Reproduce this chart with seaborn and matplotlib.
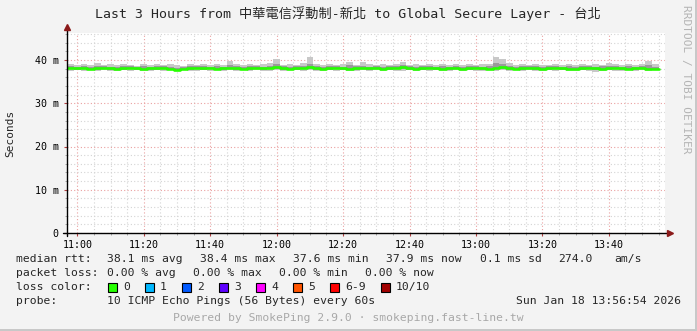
import numpy as np
import pandas as pd
import matplotlib
matplotlib.use('Agg')
import matplotlib.pyplot as plt
from matplotlib.ticker import MultipleLocator, FuncFormatter
from matplotlib.patches import Rectangle
import seaborn as sns

# ---------------- data (ms), one value per 2-minute step starting 10:57 ----------------
start_min = 57          # minutes after 10:00 of the first step
step_min = 2
median_ms = [
    38.2, 38.1, 38.2, 38.0, 38.1, 38.2, 38.1, 38.0, 38.1, 38.2,
    38.1, 38.0, 38.1, 38.1, 38.2, 38.0, 37.8, 38.0, 38.1, 38.2,
    38.1, 38.2, 38.0, 38.1, 38.2, 38.1, 38.0, 38.1, 38.2, 38.1,
    38.2, 38.4, 38.1, 38.0, 38.1, 38.2, 38.3, 38.1, 38.0, 38.1,
    38.2, 38.1, 38.0, 38.1, 38.2, 38.1, 38.2, 38.0, 38.1, 38.2,
    38.3, 38.1, 38.0, 38.1, 38.2, 38.1, 38.0, 38.1, 38.2, 38.0,
    38.1, 38.2, 38.1, 38.0, 38.2, 38.3, 38.1, 38.0, 38.1, 38.2,
    38.1, 38.0, 38.1, 38.2, 38.1, 38.0, 37.9, 38.1, 38.2, 38.1,
    38.0, 38.1, 38.2, 38.1, 38.0, 38.1, 38.2, 38.0, 37.9]
ping_max = [
    39.1, 38.9, 39.0, 38.8, 39.3, 38.9, 39.0, 38.8, 39.1, 38.9,
    38.7, 39.0, 38.9, 39.1, 38.8, 39.0, 38.9, 38.7, 39.0, 38.9,
    39.1, 38.8, 39.0, 38.9, 39.8, 39.0, 38.8, 39.1, 38.9, 39.0,
    39.2, 40.2, 38.9, 39.1, 38.8, 39.3, 40.8, 39.0, 38.9, 39.1,
    38.8, 39.0, 39.6, 38.9, 39.5, 39.0, 38.8, 39.1, 38.9, 39.0,
    39.5, 38.9, 39.0, 38.8, 39.1, 38.9, 39.0, 38.8, 39.1, 38.9,
    39.0, 38.8, 39.1, 39.0, 40.8, 40.2, 39.3, 38.9, 39.0, 38.8,
    39.1, 38.9, 38.8, 39.0, 38.9, 39.1, 38.8, 39.0, 38.9, 39.1,
    38.8, 39.2, 39.0, 38.9, 39.1, 38.8, 39.0, 39.8, 39.0]
ping_min = [
    37.5, 37.6, 37.4, 37.6, 37.5, 37.7, 37.5, 37.4, 37.6, 37.5,
    37.6, 37.4, 37.5, 37.6, 37.5, 37.7, 37.5, 37.6, 37.4, 37.5,
    37.6, 37.5, 37.7, 37.5, 37.6, 37.4, 37.6, 37.5, 37.6, 37.5,
    37.4, 37.6, 37.5, 37.6, 37.7, 37.5, 37.6, 37.4, 37.5, 37.6,
    37.5, 37.6, 37.4, 37.5, 37.6, 37.5, 37.7, 37.5, 37.6, 37.4,
    37.5, 37.6, 37.5, 37.7, 37.5, 37.6, 37.4, 37.5, 37.6, 37.5,
    37.6, 37.5, 37.4, 37.6, 37.5, 37.6, 37.5, 37.7, 37.5, 37.6,
    37.4, 37.5, 37.6, 37.5, 37.6, 37.4, 37.5, 37.6, 37.5, 37.3,
    37.5, 37.6, 37.5, 37.4, 37.6, 37.5, 37.6, 37.5, 37.6]
inner_hi = [
    38.6, 38.4, 38.5, 38.4, 38.7, 38.5, 38.4, 38.3, 38.5, 38.6,
    38.4, 38.5, 38.4, 38.6, 38.5, 38.4, 38.2, 38.4, 38.5, 38.6,
    38.5, 38.4, 38.5, 38.4, 38.9, 38.5, 38.3, 38.5, 38.6, 38.4,
    38.6, 39.0, 38.5, 38.4, 38.5, 38.6, 39.1, 38.5, 38.4, 38.5,
    38.6, 38.4, 38.8, 38.5, 38.7, 38.4, 38.6, 38.4, 38.5, 38.6,
    38.8, 38.5, 38.4, 38.5, 38.6, 38.4, 38.5, 38.4, 38.6, 38.4,
    38.5, 38.6, 38.4, 38.5, 39.2, 39.0, 38.6, 38.4, 38.5, 38.6,
    38.5, 38.4, 38.5, 38.6, 38.4, 38.5, 38.3, 38.5, 38.6, 38.4,
    38.5, 38.6, 38.5, 38.4, 38.5, 38.4, 38.6, 38.8, 38.4]
inner_lo = [
    37.9, 37.8, 37.9, 37.7, 37.8, 37.9, 37.8, 37.7, 37.8, 37.9,
    37.8, 37.7, 37.8, 37.8, 37.9, 37.7, 37.6, 37.7, 37.8, 37.9,
    37.8, 37.9, 37.7, 37.8, 37.9, 37.8, 37.7, 37.8, 37.9, 37.8,
    37.9, 38.0, 37.8, 37.7, 37.8, 37.9, 37.9, 37.8, 37.7, 37.8,
    37.9, 37.8, 37.7, 37.8, 37.9, 37.8, 37.9, 37.7, 37.8, 37.9,
    37.9, 37.8, 37.7, 37.8, 37.9, 37.8, 37.7, 37.8, 37.9, 37.7,
    37.8, 37.9, 37.8, 37.7, 37.9, 37.9, 37.8, 37.7, 37.8, 37.9,
    37.8, 37.7, 37.8, 37.9, 37.8, 37.7, 37.6, 37.8, 37.9, 37.8,
    37.7, 37.8, 37.9, 37.8, 37.7, 37.8, 37.9, 37.7, 37.6]

x_tick_labels = ['11:00', '11:20', '11:40', '12:00', '12:20', '12:40', '13:00', '13:20', '13:40']
y_tick_labels = ['0', '10 m', '20 m', '30 m', '40 m']

title = 'Last 3 Hours from 中華電信浮動制-新北 to Global Secure Layer - 台北'
legend_rows = [
    [('median rtt:', 16), ('38.1 ms avg', 107), ('38.4 ms max', 200), ('37.6 ms min', 293),
     ('37.9 ms now', 386), ('0.1 ms sd', 480), ('274.0', 558), ('am/s', 614)],
    [('packet loss:', 16), ('0.00 % avg', 107), ('0.00 % max', 193), ('0.00 % min', 279),
     ('0.00 % now', 365)],
]
loss_labels = ['0', '1', '2', '3', '4', '5', '6-9', '10/10']
loss_colors = ['#26ff00', '#00b8ff', '#0059ff', '#5e00ff', '#ff00ff', '#ff5500', '#ff0000', '#a10000']
loss_box_x = [108, 145, 182, 219, 256, 293, 330, 381]
probe_text = '10 ICMP Echo Pings (56 Bytes) every 60s'
date_text = 'Sun Jan 18 13:56:54 2026'
footer = 'Powered by SmokePing 2.9.0 · smokeping.fast-line.tw'

# ---------------- build table ----------------
n = len(median_ms)
t = [start_min + step_min * i for i in range(n)] + [start_min + step_min * n]
def ext(a):
    return list(a) + [a[-1]]
df = pd.DataFrame({'t': t, 'median': ext(median_ms), 'lo': ext(ping_min), 'hi': ext(ping_max),
                   'ilo': ext(inner_lo), 'ihi': ext(inner_hi)})

# ---------------- figure ----------------
sns.set_theme(style='white')
plt.rcParams['font.family'] = ['DejaVu Sans Mono', 'Noto Sans CJK TC']

W, H = 697, 331
BG = '#f3f3f3'
fig = plt.figure(figsize=(W / 100, H / 100), dpi=100, facecolor=BG)

def rect(x0, y0, w, h):
    return [x0 / W, 1 - (y0 + h) / H, w / W, h / H]

AX_L, AX_T, AX_W, AX_H = 67, 33, 598, 200
ax = fig.add_axes(rect(AX_L, AX_T, AX_W, AX_H))
ax.set_facecolor('white')

xmin, xmax = 56.9, 236.9
ymax = AX_H / 4.325
ax.set_xlim(xmin, xmax)
ax.set_ylim(0, ymax)

# grid
ax.xaxis.set_major_locator(MultipleLocator(20))
ax.xaxis.set_minor_locator(MultipleLocator(5))
ax.yaxis.set_major_locator(MultipleLocator(10))
ax.yaxis.set_minor_locator(MultipleLocator(2))
ax.grid(which='minor', color='#d4d4d4', ls=(0, (1, 2)), lw=0.8)
ax.grid(which='major', color='#eaa0a0', ls=(0, (1, 2)), lw=0.8)
ax.set_axisbelow(True)

# smoke + median
ax.fill_between(df['t'], df['lo'], df['hi'], step='post', color='#c8c8c8', lw=0, zorder=2)
ax.fill_between(df['t'], df['ilo'], df['ihi'], step='post', color='#9a9a9a', lw=0, zorder=2)
sns.lineplot(data=df, x='t', y='median', drawstyle='steps-post', color='#26ff00',
             lw=1.9, ax=ax, zorder=3, legend=False)

# ticks
def fmt_x(v, pos):
    return f'{10 + int(v // 60)}:{int(v % 60):02d}'
ax.xaxis.set_major_formatter(FuncFormatter(fmt_x))
ax.set_yticks([0, 10, 20, 30, 40])
ax.set_yticklabels(y_tick_labels)
ax.set_xticks([60 + 20 * i for i in range(len(x_tick_labels))])
ax.set_xticklabels(x_tick_labels)
ax.tick_params(axis='both', which='major', labelsize=7.2, colors='#000000',
               length=2.5, width=0.8, color='#b04040')
ax.tick_params(axis='x', which='major', pad=2.5)
ax.tick_params(axis='y', which='major', pad=3.5)
ax.tick_params(axis='both', which='minor', length=1.5, width=0.6, color='#999999')
ax.tick_params(bottom=True, left=True, which='both', direction='out')
ax.set_xlabel('')
ax.set_ylabel('')
for s in ax.spines.values():
    s.set_visible(False)

# axis lines with arrows
tr = ax.transAxes
ax.plot([-4 / AX_W, 1 + 3 / AX_W], [0, 0], color='black', lw=1, transform=tr, clip_on=False, zorder=5)
ax.plot([1 + 5 / AX_W], [0], marker='>', color='#8b1a1a', ms=4.5, transform=tr, clip_on=False, zorder=5)
ax.plot([0, 0], [-3 / AX_H, 1 + 4 / AX_H], color='black', lw=1, transform=tr, clip_on=False, zorder=5)
ax.plot([0], [1 + 6 / AX_H], marker='^', color='#8b1a1a', ms=4.5, transform=tr, clip_on=False, zorder=5)

# texts
def T(x, y, s, **kw):
    kw.setdefault('va', 'center')
    kw.setdefault('fontsize', 8.2)
    return fig.text(x / W, 1 - y / H, s, **kw)

T(348, 14, title, ha='center', fontsize=9.5)
T(10, 133, 'Seconds', ha='center', rotation=90, fontsize=8)
T(686, 5, 'RRDTOOL / TOBI OETIKER', ha='center', va='top', rotation=270, fontsize=8, color='#b4b4b4')

rows_y = [259, 273, 287, 301]
for row, y in zip(legend_rows, rows_y[:2]):
    for s, x in row:
        T(x, y, s, ha='left')
T(16, rows_y[2], 'loss color:', ha='left')
for lab, col, bx in zip(loss_labels, loss_colors, loss_box_x):
    fig.add_artist(Rectangle((bx / W, 1 - (rows_y[2] + 4.5) / H), 9 / W, 9 / H,
                             transform=fig.transFigure, facecolor=col, edgecolor='black', lw=0.8))
    T(bx + 15, rows_y[2], lab, ha='left')
T(16, rows_y[3], 'probe:', ha='left')
T(107, rows_y[3], probe_text, ha='left')
T(681, rows_y[3], date_text, ha='right')
T(348, 318, footer, ha='center', color='#a8a8a8')

# frame
fig.add_artist(Rectangle((0, 0), 1, 2 / H, transform=fig.transFigure, facecolor='#c8c8c8', lw=0))
fig.add_artist(Rectangle((1 - 2 / W, 0), 2 / W, 1, transform=fig.transFigure, facecolor='#c8c8c8', lw=0))

fig.savefig('out.png', dpi=100, facecolor=BG)
